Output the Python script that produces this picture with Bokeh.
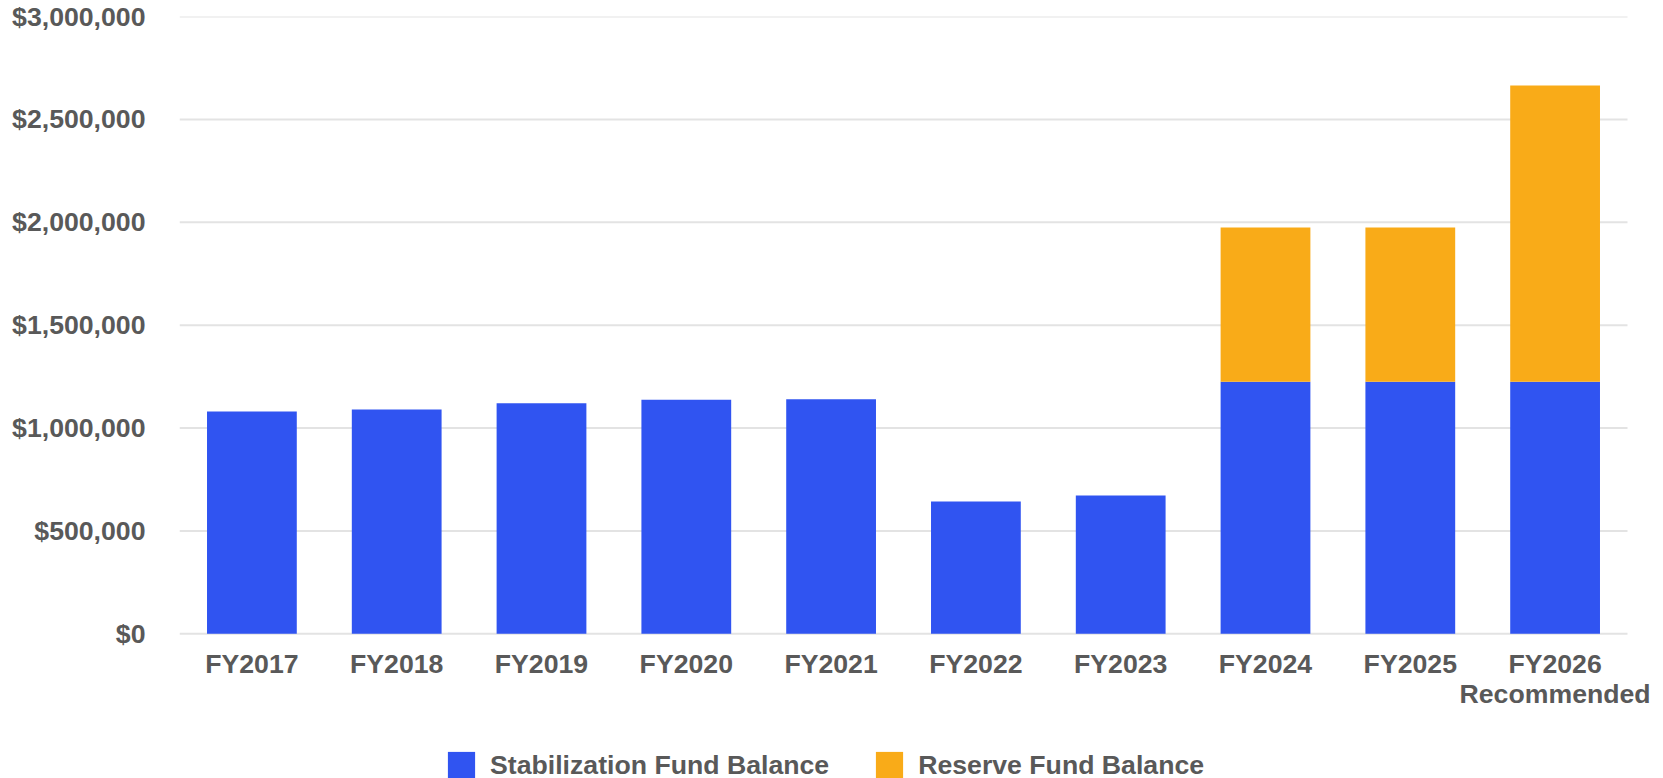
from bokeh.plotting import figure
from bokeh.models import (Range1d, FixedTicker, NumeralTickFormatter,
                          Legend, LegendItem)
from bokeh.embed import file_html
from bokeh.resources import INLINE

# ---- data ----
categories = ["FY2017", "FY2018", "FY2019", "FY2020", "FY2021",
              "FY2022", "FY2023", "FY2024", "FY2025", "FY2026\nRecommended"]
stabilization = [1080000, 1090000, 1120000, 1138000, 1140000,
                 643000, 672000, 1225000, 1225000, 1225000]
reserve = [0, 0, 0, 0, 0, 0, 0, 750000, 750000, 1440000]
series_names = ["Stabilization Fund Balance", "Reserve Fund Balance"]
y_ticks = [0, 500000, 1000000, 1500000, 2000000, 2500000, 3000000]

BLUE = "#3054F1"
ORANGE = "#F9AB18"
TEXT = "#595959"
GRID = "#E3E3E3"
FONT = "Liberation Sans"
FS = "20pt"

# layout (pixels)
W, H = 1663, 778
LEFT, TOP = 179, 16
VALUE_PX = 617.3          # height of $0..$3M
CAT_PX = 144.8            # width of one category slot
Y_MAX = 3000000
n = len(categories)
positions = list(range(n))
y_min = -Y_MAX * (H - TOP - VALUE_PX) / VALUE_PX
x_end = -0.5 + (W - LEFT) / CAT_PX

p = figure(x_range=Range1d(-0.5, x_end), y_range=Range1d(y_min, Y_MAX),
           width=W, height=H, output_backend="svg", toolbar_location=None,
           min_border_left=LEFT, min_border_right=0,
           min_border_top=TOP, min_border_bottom=0)

# horizontal grid lines spanning the categories only
grid = p.segment(x0=[-0.5] * len(y_ticks), x1=[n - 0.5] * len(y_ticks),
                 y0=y_ticks, y1=y_ticks, line_color=GRID, line_width=2,
                 level="underlay")

src = dict(x=positions, stab=stabilization, res=reserve)
rs = p.vbar_stack(["stab", "res"], x="x", width=0.62, source=src,
                  color=[BLUE, ORANGE], line_color=None)

p.outline_line_color = None
p.xgrid.visible = False
p.ygrid.visible = False

p.yaxis.ticker = FixedTicker(ticks=y_ticks)
p.yaxis.formatter = NumeralTickFormatter(format="$0,0")
p.xaxis.ticker = FixedTicker(ticks=positions)
p.xaxis.major_label_overrides = {i: c for i, c in zip(positions, categories)}
p.xaxis.fixed_location = 0
for ax in (p.xaxis, p.yaxis):
    ax.axis_line_color = None
    ax.major_tick_line_color = None
    ax.minor_tick_line_color = None
    ax.major_tick_out = 0
    ax.minor_tick_out = 0
    ax.major_label_text_font = FONT
    ax.major_label_text_font_style = "bold"
    ax.major_label_text_font_size = FS
    ax.major_label_text_color = TEXT
p.yaxis.major_label_standoff = 34
p.xaxis.major_label_standoff = 15
p.xaxis.major_label_text_line_height = 1.0

legend = Legend(items=[LegendItem(label=series_names[0], renderers=[rs[0]]),
                       LegendItem(label=series_names[1], renderers=[rs[1]])],
                orientation="horizontal", location=(265, -4),
                glyph_width=34, glyph_height=34, label_standoff=12, spacing=43,
                padding=0, margin=0, border_line_alpha=0, background_fill_alpha=0,
                label_text_font=FONT, label_text_font_style="bold",
                label_text_font_size=FS, label_text_color=TEXT)
p.add_layout(legend, "center")

open("out.html", "w").write(file_html(p, INLINE))
